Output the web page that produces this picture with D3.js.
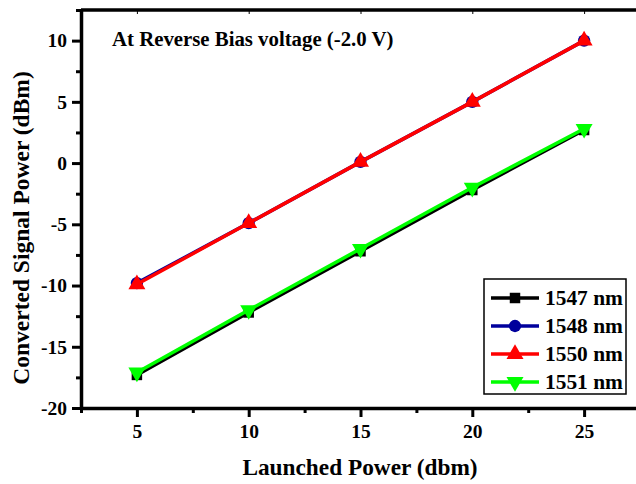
<!DOCTYPE html>
<html>
<head>
<meta charset="utf-8">
<script src="https://cdn.jsdelivr.net/npm/d3@7"></script>
<style>
  body { margin: 0; background: #fff; }
  svg { display: block; }
  svg text { font-family: "Liberation Serif", "Times New Roman", serif; font-weight: bold; fill: #000; }
</style>
</head>
<body>
<div id="chart"></div>
<script>
const launched = [5, 10, 15, 20, 25];
const p1547 = [-17.3, -12.2, -7.2, -2.2, 2.7];
const p1548 = [-9.8, -4.9, 0.1, 5.0, 10.0];
const p1550 = [-9.9, -4.9, 0.1, 5.0, 10.0];
const p1551 = [-17.1, -12.0, -7.0, -2.0, 2.8];
const seriesNames = ["1547 nm", "1548 nm", "1550 nm", "1551 nm"];
const xTicks = [5, 10, 15, 20, 25];
const yTicks = [-20, -15, -10, -5, 0, 5, 10];

const W = 636, H = 484;
const margin = {top: 10, right: -4, bottom: 76, left: 81};
const width = W - margin.left - margin.right;
const height = H - margin.top - margin.bottom;

const series = [
  {name: seriesNames[0], vals: p1547, color: "#000000", sym: d3.symbolSquare, size: 110, rot: 0},
  {name: seriesNames[1], vals: p1548, color: "#00009c", sym: d3.symbolCircle, size: 120, rot: 0},
  {name: seriesNames[2], vals: p1550, color: "#ff0000", sym: d3.symbolTriangle, size: 125, rot: 0},
  {name: seriesNames[3], vals: p1551, color: "#00ff00", sym: d3.symbolTriangle, size: 125, rot: 180}
];

const svg = d3.select("#chart").append("svg")
  .attr("width", W).attr("height", H);

const g = svg.append("g").attr("transform", `translate(${margin.left},${margin.top})`);

const x = d3.scaleLinear().domain([2.5, 27.5]).range([0, width]);
const y = d3.scaleLinear().domain([-20, 12.5]).range([height, 0]);

// minor ticks
const xMinor = d3.range(2.5, 27.6, 2.5).filter(v => v % 5 !== 0);
const yMinor = d3.range(-17.5, 12.6, 5);

g.append("g").attr("transform", `translate(0,${height})`)
  .call(d3.axisBottom(x).tickValues(xMinor).tickSize(5).tickFormat(""))
  .call(a => a.select(".domain").remove())
  .selectAll("line").attr("stroke-width", 3);
g.append("g")
  .call(d3.axisLeft(y).tickValues(yMinor).tickSize(5).tickFormat(""))
  .call(a => a.select(".domain").remove())
  .selectAll("line").attr("stroke-width", 3);

const xAxis = g.append("g").attr("transform", `translate(0,${height})`)
  .call(d3.axisBottom(x).tickValues(xTicks).tickSize(9).tickPadding(7).tickSizeOuter(0).tickFormat(d => String(d)));
const yAxis = g.append("g")
  .call(d3.axisLeft(y).tickValues(yTicks).tickSize(9).tickPadding(5).tickSizeOuter(0).tickFormat(d => String(d)));

[xAxis, yAxis].forEach(a => {
  a.select(".domain").attr("stroke-width", 3.5);
  a.selectAll(".tick line").attr("stroke-width", 3);
  a.selectAll("text").style("font-size", "19.5px");
});

// top border
g.append("line").attr("x1", 0).attr("x2", width + 10).attr("y1", 0).attr("y2", 0)
  .attr("stroke", "#000").attr("stroke-width", 3.5);
g.append("g")
  .call(d3.axisBottom(x).tickValues(xTicks).tickSize(4).tickFormat(""))
  .call(a => a.select(".domain").remove())
  .selectAll("line").attr("stroke-width", 1);

const line = d3.line().x((d, i) => x(launched[i])).y(d => y(d));

series.forEach(s => {
  g.append("path").datum(s.vals)
    .attr("d", line).attr("fill", "none")
    .attr("stroke", s.color).attr("stroke-width", 3.5);
  g.selectAll(null).data(s.vals).enter().append("path")
    .attr("d", d3.symbol().type(s.sym).size(s.size))
    .attr("transform", (d, i) => `translate(${x(launched[i])},${y(d)}) rotate(${s.rot})`)
    .attr("fill", s.color);
});

// annotation
g.append("text").attr("x", 31).attr("y", 36)
  .style("font-size", "20.8px").text("At Reverse Bias voltage (-2.0 V)");

// axis titles
svg.append("text").attr("x", 360).attr("y", 475)
  .attr("text-anchor", "middle").style("font-size", "23.3px").text("Launched Power (dbm)");
svg.append("text").attr("transform", `translate(29,${margin.top + height / 2 + 19}) rotate(-90)`)
  .attr("text-anchor", "middle").style("font-size", "23.5px").text("Converted Signal Power (dBm)");

// legend
const leg = svg.append("g").attr("transform", "translate(484,279)");
leg.append("rect").attr("width", 142).attr("height", 115)
  .attr("fill", "#fff").attr("stroke", "#000").attr("stroke-width", 1.5);
series.forEach((s, i) => {
  const ly = 19 + i * 28;
  leg.append("line").attr("x1", 7).attr("x2", 55).attr("y1", ly).attr("y2", ly)
    .attr("stroke", s.color).attr("stroke-width", 3.5);
  leg.append("path").attr("d", d3.symbol().type(s.sym).size(s.size))
    .attr("transform", `translate(31,${ly}) rotate(${s.rot})`).attr("fill", s.color);
  leg.append("text").attr("x", 61).attr("y", ly + 7).style("font-size", "21.4px").text(s.name);
});
</script>
</body>
</html>
